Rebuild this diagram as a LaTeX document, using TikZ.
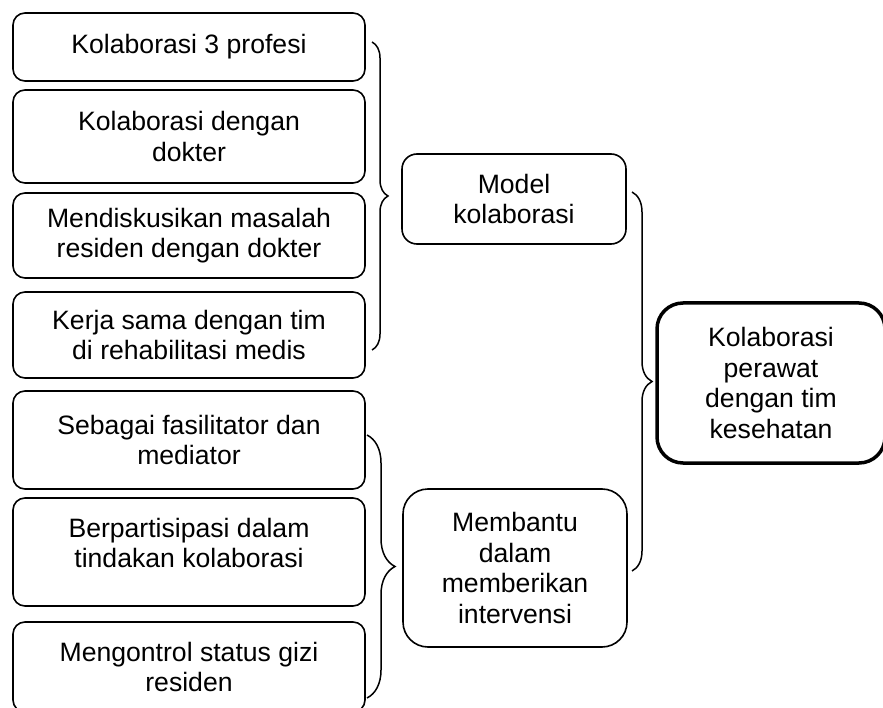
\documentclass[tikz,border=0pt]{standalone}
\usepackage{fontspec}
\setmainfont{Liberation Sans}
\usetikzlibrary{decorations.pathreplacing}

\tikzset{
  kotak/.style={draw, line width=1.6pt, rounded corners=12pt, align=center, inner sep=0pt,
    font=\fontsize{26.6}{30.6}\selectfont},
  kurung/.style={decorate, line width=1.5pt, decoration={brace, amplitude=#1}}
}

\begin{document}
\begin{tikzpicture}[x=1pt, y=-1pt]
    \useasboundingbox (0,0) rectangle (883,708);
    \foreach \n/\y/\h/\txt in {1/47/68/{Kolaborasi 3 profesi}, 2/136.5/93/{Kolaborasi dengan\\dokter},
        3/235.5/85/{Mendiskusikan masalah\\residen dengan dokter}, 4/335/86/{Kerja sama dengan tim\\di rehabilitasi medis},
        5/440/98/{Sebagai fasilitator dan\\mediator}, 6/552/108/{Berpartisipasi dalam\\tindakan kolaborasi\\[-12pt]},
        7/667/90/{Mengontrol status gizi\\residen}}{
        \node[kotak, minimum width=352pt, minimum height=\h pt] (b\n) at (189,\y) {\txt};
    }
    \node[kotak, rounded corners=15pt, minimum width=224pt, minimum height=90pt] (M1) at (514,199) {Model\\kolaborasi};
    \node[kotak, rounded corners=25pt, minimum width=224pt, minimum height=158pt] (M2) at (515,568) {Membantu\\dalam\\memberikan\\intervensi};
    \node[kotak, line width=3.5pt, rounded corners=26pt, minimum width=228pt, minimum height=160pt] (K) at (771,383) {Kolaborasi\\perawat\\dengan tim\\kesehatan};
    \coordinate (A1) at (372,42);
    \coordinate (A2) at (372,350);
    \coordinate (B1) at (367,435);
    \coordinate (B2) at (367,698);
    \coordinate (C1) at (632,192);
    \coordinate (C2) at (632,571);
    \draw[kurung=16pt] (A1) -- (A2);
    \draw[kurung=28pt] (B1) -- (B2);
    \draw[kurung=20pt] (C1) -- (C2);
  \end{tikzpicture}
\end{document}
